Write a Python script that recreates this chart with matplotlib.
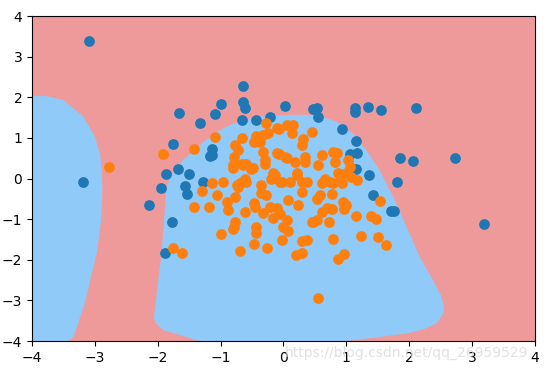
import matplotlib
matplotlib.use("Agg")
import matplotlib.pyplot as plt

# class 0 (blue) points
x0 = [-3.09, -3.19, -2.14, -1.95, -1.87, -1.88, -1.78, -1.76, -1.68, -1.66,
      -1.57, -1.54, -1.51, -1.33, -1.28, -1.17, -1.13, -1.14, -1.09, -1.00,
      -0.66, -0.64, -0.64, -0.61, -0.43, -0.21, 0.02, 0.47, 0.53, 0.55,
      0.94, 1.14, 1.14, 1.34, 1.56, 2.11, 1.15, 1.06, 1.17, 1.15,
      1.36, 1.80, 1.85, 2.06, 2.73, 1.42, 1.72, 1.76, 3.20]
y0 = [3.39, -0.09, -0.64, -0.22, 0.11, -1.83, -1.08, 0.84, 0.23, 1.62,
      -0.18, -0.38, 0.11, 1.36, -0.08, 0.56, 0.58, 0.74, 1.58, 1.83,
      1.44, 2.28, 1.89, 1.73, 1.44, 1.51, 1.79, 1.71, 1.74, 1.51,
      1.21, 1.74, 1.65, 1.77, 1.69, 1.73, 0.92, 0.60, 0.62, 0.23,
      0.10, -0.09, 0.51, 0.43, 0.51, -0.41, -0.79, -0.79, -1.12]

# class 1 (orange) points
x1 = [-2.77, -1.91, -1.43, -1.09, -0.66, -0.28, -0.07, 0.05, -0.43, -0.32,
      -0.24, -0.47, -0.37, -0.77, -0.72, -0.79, -0.66, -0.60, -0.32, -0.29,
      -0.29, -0.51, -0.81, -0.61, -0.59, -0.16, -0.19, -1.13, -0.96, -0.74,
      -0.35, -0.11, 0.16, 0.13, 0.31, 0.29, 0.46, 0.61, 0.79, 0.85,
      0.82, 1.03, 1.06, 0.55, -0.11, 0.02, 0.18, 0.34, 0.34, 0.21,
      0.29, 0.37, 0.66, 0.74, 0.87, 0.93, 1.00, 1.08, 1.17, -0.06,
      -1.76, -1.61, -1.43, -1.29, -1.00, -0.78, -0.69, -0.43, -0.47, -0.26,
      -0.02, -0.61, -1.18, -1.06, -0.88, -0.90, -0.77, -0.72, -0.27, -0.47,
      -0.32, -0.21, -0.10, 0.08, 0.24, 0.53, 0.58, 0.77, 0.95, 1.00,
      0.96, 1.15, 1.39, 1.48, 0.77, 0.61, 0.47, 0.73, -0.06, 0.05,
      0.08, 0.29, 0.37, 0.79, 1.24, 1.51, 1.63, 0.20, 0.29, 0.87,
      0.96, 0.55, 1.53, 0.79, 0.90, -0.07, 0.05, -0.64, -0.48, -0.80,
      -0.14, -0.03, 0.10, 0.21, -0.69, -0.35, -0.45, 0.29, 0.61, 0.69,
      -0.16, 0.00, 0.45, 0.53, -0.77, -0.80, -0.43]
y1 = [0.29, 0.60, 0.73, 1.03, 1.01, 1.36, 1.21, 1.32, 1.05, 1.07,
      1.11, 0.91, 0.91, 0.82, 0.70, 0.52, 0.37, 0.37, 0.66, 0.46,
      0.37, 0.23, 0.33, 0.00, -0.08, 0.13, 0.00, -0.12, -0.08, -0.16,
      -0.16, 1.24, 1.32, 1.11, 0.97, 0.83, 1.14, 0.58, 0.66, 0.62,
      0.41, 0.46, 0.29, 0.33, 0.62, 0.54, 0.41, 0.54, 0.41, 0.13,
      -0.08, -0.08, 0.00, -0.08, 0.13, -0.12, 0.13, 0.04, -0.04, -0.08,
      -1.72, -1.83, -0.71, -0.30, -1.37, -1.20, -1.78, -1.33, -1.60, -1.70,
      -1.51, -0.82, -0.71, -0.41, -0.78, -0.57, -0.45, -0.20, -0.41, -0.61,
      -0.84, -0.69, -0.72, -0.53, -0.64, -0.51, -0.41, -0.37, -0.57, -0.65,
      -0.75, -0.92, -0.92, -1.00, -0.75, -0.82, -1.06, -1.08, -0.86, -1.02,
      -1.29, -1.54, -1.51, -1.49, -1.42, -1.45, -1.64, -1.88, -1.84, -1.99,
      -1.86, -2.93, -0.55, -0.12, 0.09, 0.60, 0.50, 0.33, 0.25, 0.25,
      0.09, -0.08, -0.08, 0.09, -0.12, -0.36, -0.69, -0.32, -0.12, -0.73,
      -0.98, -1.19, -1.06, -1.02, -1.06, -1.23, -1.19]

# decision regions (class 1)
left_region_x = [-4.0, -3.42, -3.34, -3.16, -2.97, -2.90, -2.88, -2.89, -2.92,
                 -3.00, -3.18, -3.50, -3.76, -4.0]
left_region_y = [-4.0, -4.0, -3.90, -3.06, -1.83, -1.00, -0.30, 0.21, 0.62,
                 1.03, 1.52, 1.93, 2.03, 2.03]
main_region_x = [-1.35, -1.54, -1.91, -2.04, -2.06, -2.00, -1.94, -1.90, -1.88,
                 -1.86, -1.78, -1.70, -1.57, -1.43, -1.25, -1.06, -0.85, -0.64,
                 -0.40, -0.21, 0.10, 0.35, 0.58, 0.85, 1.11, 1.32, 1.53, 1.69,
                 1.75, 1.96, 2.17, 2.38, 2.50, 2.55, 2.55, 2.44, 2.25, 2.01,
                 1.38, 1.00]
main_region_y = [-4.0, -3.90, -3.73, -3.55, -3.40, -2.60, -1.84, -1.00, -0.60,
                 -0.20, 0.10, 0.29, 0.50, 0.70, 0.93, 1.15, 1.32, 1.44,
                 1.52, 1.55, 1.57, 1.57, 1.54, 1.40, 1.11, 0.70, 0.21, -0.28,
                 -0.45, -1.19, -1.93, -2.50, -2.85, -3.10, -3.31, -3.56, -3.70, -3.80,
                 -3.93, -4.0]

fig = plt.figure(figsize=(5.53, 3.74), dpi=100)
ax = fig.add_axes([0.058, 0.088, 0.909, 0.869])
ax.set_facecolor("#EF9A9A")
ax.fill(left_region_x, left_region_y, color="#90CAF9", lw=0)
ax.fill(main_region_x, main_region_y, color="#90CAF9", lw=0)

ax.scatter(x0, y0, s=45, color="C0")
ax.scatter(x1, y1, s=45, color="C1")

ax.set_xlim(-4, 4)
ax.set_ylim(-4, 4)

# watermark of the source image
fig.text(0.515, 0.045, "https://blog.csdn.net/qq_26959529", color="#dcdcdc",
         fontsize=10, alpha=0.85)

fig.savefig("out.png", dpi=100)
